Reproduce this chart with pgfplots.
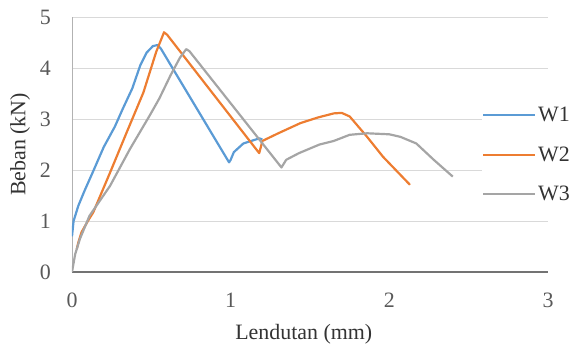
\documentclass[border=0pt]{standalone}
\usepackage{fontspec}
\setmainfont{Liberation Serif}
\usepackage{pgfplots}
\pgfplotsset{compat=1.18}
\definecolor{cW1}{HTML}{5B9BD5}
\definecolor{cW2}{HTML}{ED7D31}
\definecolor{cW3}{HTML}{A5A5A5}
\definecolor{tk}{HTML}{595959}
\newcommand\f{\fontsize{22}{26}\selectfont}
\begin{document}
\begin{tikzpicture}
\useasboundingbox (-72bp,-75bp) rectangle (505bp,272bp);
\begin{axis}[at={(0,0)},anchor=south west,
  scale only axis, width=476bp, height=255bp,
  xmin=0,xmax=3,ymin=0,ymax=5,
  xtick={0,1,2,3}, ytick={0,1,2,3,4,5},
  axis x line*=bottom, axis y line*=left,
  x axis line style={-,draw=black!55,line width=1.2pt},
  y axis line style={-,draw=black!30,line width=1pt},
  major tick length=0pt,
  ymajorgrids, grid style={draw=black!15,line width=0.8pt},
  /pgf/number format/assume math mode=true,
  tick label style={font=\f,text=tk,inner sep=0pt},
  xticklabel style={anchor=north,yshift=-21bp},
  yticklabel style={anchor=east,xshift=-21bp},
  xlabel={Lendutan (mm)}, ylabel={Beban (kN)},
  label style={font=\f,text=black!80},
  x label style={at={(axis description cs:0.487,-0.245)},anchor=center},
  y label style={at={(axis description cs:-0.109,0.5)},anchor=center},
  legend style={at={(axis description cs:0.861,0.655)},anchor=north west,draw=none,fill=white,inner sep=0pt,font=\f,row sep=19.5bp,text=black!80},
  legend cell align=left,
  legend image code/.code={\draw[#1] (0bp,0bp) -- (52bp,0bp);},
  every axis plot/.append style={line width=2.2pt,line join=round},
]
\addplot[cW1] coordinates {(0,0.7)(0.01,1.0)(0.04,1.3)(0.08,1.6)(0.13,1.95)(0.2,2.45)(0.27,2.85)(0.32,3.2)(0.38,3.6)(0.43,4.05)(0.47,4.3)(0.51,4.43)(0.54,4.45)(0.56,4.38)(0.99,2.15)(1.0,2.2)(1.02,2.35)(1.08,2.52)(1.18,2.62)(1.2,2.6)};
\addlegendentry{W1}
\addplot[cW2] coordinates {(0.03,0.45)(0.04,0.58)(0.06,0.78)(0.1,1.0)(0.134,1.17)(0.24,1.95)(0.345,2.74)(0.45,3.52)(0.53,4.31)(0.58,4.70)(0.6,4.65)(1.18,2.33)(1.2,2.57)(1.3,2.72)(1.44,2.92)(1.55,3.03)(1.65,3.11)(1.7,3.12)(1.75,3.05)(1.86,2.65)(1.96,2.26)(2.13,1.71)};
\addlegendentry{W2}
\addplot[cW3] coordinates {(0.0,0.0)(0.02,0.35)(0.05,0.65)(0.11,1.1)(0.24,1.69)(0.365,2.41)(0.49,3.07)(0.55,3.4)(0.62,3.85)(0.68,4.2)(0.72,4.37)(0.74,4.33)(1.32,2.05)(1.35,2.2)(1.43,2.33)(1.56,2.5)(1.65,2.57)(1.75,2.69)(1.86,2.72)(2.0,2.7)(2.07,2.65)(2.17,2.52)(2.28,2.2)(2.40,1.87)};
\addlegendentry{W3}
\end{axis}
\end{tikzpicture}
\end{document}
